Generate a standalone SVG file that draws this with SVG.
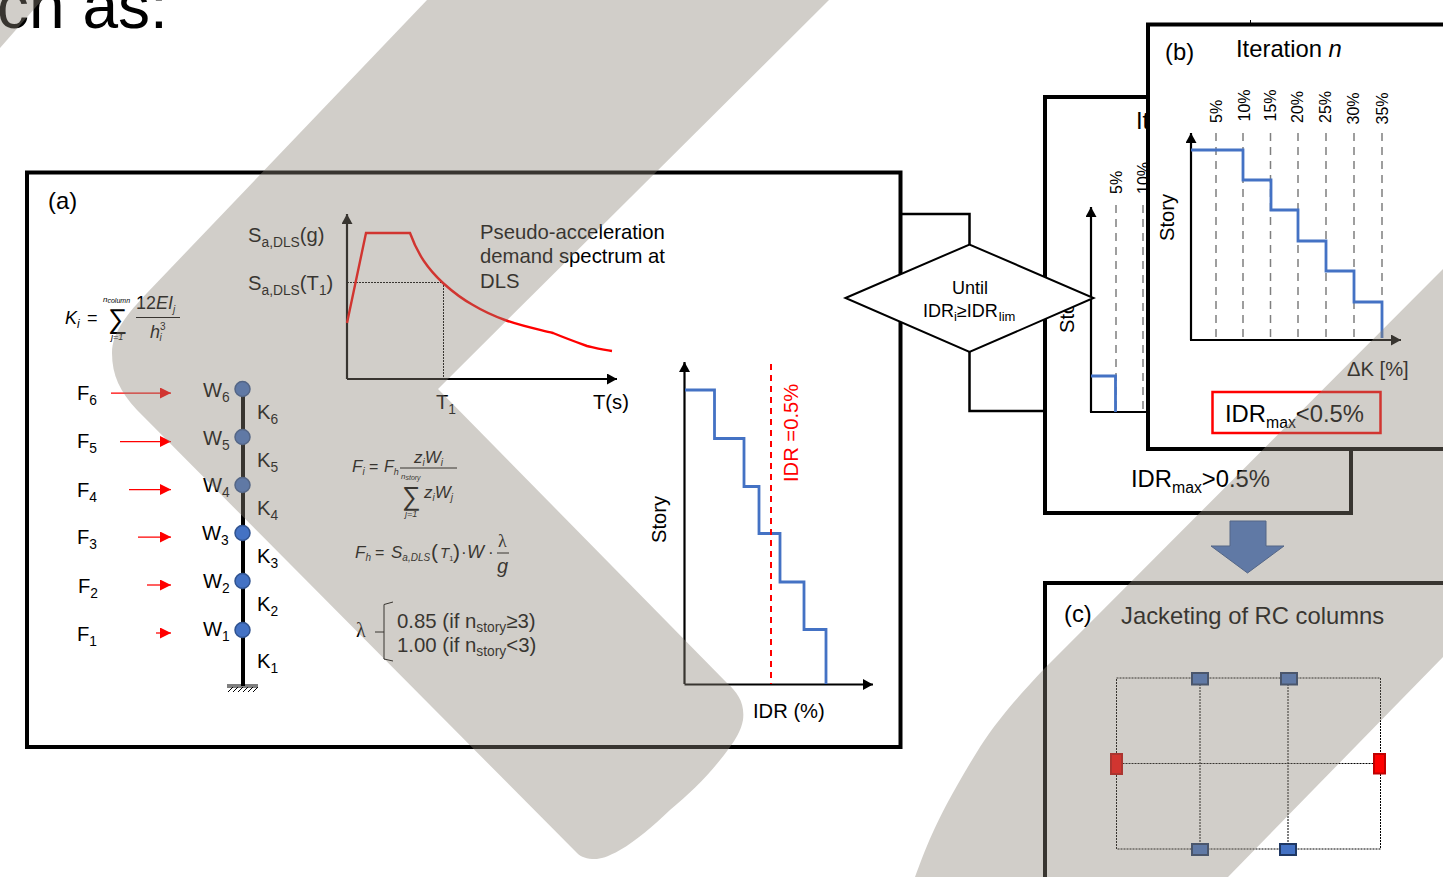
<svg xmlns="http://www.w3.org/2000/svg" width="1443" height="877" viewBox="0 0 1443 877">
<style>
text{font-family:"Liberation Sans",Arial,sans-serif;fill:#000}
.t20{font-size:20.2px}.t18{font-size:18px}.t24{font-size:23.8px}.t16{font-size:16px}
.i{font-style:italic}
.s14{font-size:13.800px}.s16{font-size:15.800px}.s12{font-size:12px}.s10{font-size:10px}
.box{fill:#fff;stroke:#000;stroke-width:4}
.wire{fill:none;stroke:#000;stroke-width:2.5}
.axis{fill:none;stroke:#000;stroke-width:2.2}
.step{fill:none;stroke:#4472c4;stroke-width:2.800}
.dash{stroke:#7f7f7f;stroke-width:1.5;stroke-dasharray:8 6;fill:none}
.dot{stroke:#000;stroke-width:1;stroke-dasharray:2 1;fill:none}
.load{stroke:#f00;stroke-width:1.25;fill:none;marker-end:url(#rh)}
.node{fill:#4472c4;stroke:#2f528f;stroke-width:1.5}
.sq{fill:#4472c4;stroke:#1f3864;stroke-width:2}
.rd{fill:#f00;stroke:#c00000;stroke-width:2}
.band{fill:#8d8479;opacity:.4}
</style>
<defs>
<marker id="ah" markerUnits="userSpaceOnUse" markerWidth="12" markerHeight="12" refX="10" refY="5.5" orient="auto"><path d="M0 0L10 5.5L0 11z" fill="#000"/></marker>
<marker id="rh" markerUnits="userSpaceOnUse" markerWidth="12" markerHeight="12" refX="11" refY="5.5" orient="auto"><path d="M0 0L11 5.5L0 11z" fill="#f00"/></marker>
</defs>
<rect width="1443" height="877" fill="#fff"/>
<text x="-3" y="28" font-size="64">ch as:</text>

<g id="panel-a">
<rect class="box" x="27" y="172.500" width="873.500" height="574.500"/>
<text class="t24" x="48" y="209">(a)</text>
<g id="formula-k">
<text class="t18 i" x="65" y="324">K<tspan class="s12" dy="4">i</tspan></text>
<text class="t18" x="87" y="324">=</text>
<text x="108" y="328" font-size="27">∑</text>
<text class="i" x="103" y="302" font-size="8">n<tspan font-size="7" dy="1">column</tspan></text>
<text class="i" x="111" y="340" font-size="9">j=1</text>
<text class="t18 i" x="136" y="309"><tspan font-style="normal">12</tspan>EI<tspan class="s10" dy="4">j</tspan></text>
<path d="M136 317.500H180" stroke="#000" stroke-width="1"/>
<text class="t18 i" x="150" y="338">h<tspan class="s10" dy="-8" font-style="normal">3</tspan><tspan class="s10" dx="-6" dy="11">i</tspan></text>
</g>
<g id="spectrum">
<path class="axis" marker-end="url(#ah)" d="M347 379V214"/>
<path class="axis" marker-end="url(#ah)" d="M347 379H617"/>
<path class="dot" d="M347 282.500H443.500V379"/>
<path d="M347 323L366 233H410C418 255 428 269 443 283C453 292 462 299 473 305C483 311 494 316 505 320C521 326 537 329 553 333C565 338 576 342 587 346C596 348 604 350 612 351" fill="none" stroke="#f00" stroke-width="2.400"/>
<text class="t20" x="248" y="242">S<tspan class="s14" dy="5">a,DLS</tspan><tspan dy="-5">(g)</tspan></text>
<text class="t20" x="248" y="290">S<tspan class="s14" dy="5">a,DLS</tspan><tspan dy="-5">(T</tspan><tspan class="s14" dy="5">1</tspan><tspan dy="-5">)</tspan></text>
<text class="t20" x="436" y="409">T<tspan class="s14" dy="5">1</tspan></text>
<text class="t20" x="593" y="409">T(s)</text>
<text x="480" y="239" font-size="20.3">Pseudo-acceleration</text>
<text x="480" y="263" font-size="20.3">demand spectrum at</text>
<text x="480" y="288" font-size="20.3">DLS</text>
</g>
<g id="column">
<path d="M243 389V686" stroke="#000" stroke-width="4"/>
<path d="M227 685H258M227 687H258M228 692L233 687M233 692L238 687M238 692L243 687M243 692L248 687M248 692L253 687M253 692L258 687" stroke="#000" stroke-width="1" fill="none"/>
<circle class="node" cx="242.500" cy="389" r="7.500"/>
<circle class="node" cx="242.500" cy="437" r="7.500"/>
<circle class="node" cx="242.500" cy="485" r="7.500"/>
<circle class="node" cx="242.500" cy="533" r="7.500"/>
<circle class="node" cx="242.500" cy="581" r="7.500"/>
<circle class="node" cx="242.500" cy="630" r="7.500"/>
<path class="load" d="M111 393H171"/><path class="load" d="M120 441.500H171"/><path class="load" d="M129 489.500H171"/><path class="load" d="M138 537H171"/><path class="load" d="M147 585H171"/><path class="load" d="M156 633H171"/>
<text class="t20" x="77" y="400">F<tspan class="s14" dy="5">6</tspan></text>
<text class="t20" x="77" y="448">F<tspan class="s14" dy="5">5</tspan></text>
<text class="t20" x="77" y="497">F<tspan class="s14" dy="5">4</tspan></text>
<text class="t20" x="77" y="544">F<tspan class="s14" dy="5">3</tspan></text>
<text class="t20" x="78" y="593">F<tspan class="s14" dy="5">2</tspan></text>
<text class="t20" x="77" y="641">F<tspan class="s14" dy="5">1</tspan></text>
<text class="t20" x="203" y="397">W<tspan class="s14" dy="5">6</tspan></text>
<text class="t20" x="203" y="445">W<tspan class="s14" dy="5">5</tspan></text>
<text class="t20" x="203" y="492">W<tspan class="s14" dy="5">4</tspan></text>
<text class="t20" x="202" y="540">W<tspan class="s14" dy="5">3</tspan></text>
<text class="t20" x="203" y="588">W<tspan class="s14" dy="5">2</tspan></text>
<text class="t20" x="203" y="636">W<tspan class="s14" dy="5">1</tspan></text>
<text class="t20" x="257" y="419">K<tspan class="s14" dy="5">6</tspan></text>
<text class="t20" x="257" y="467">K<tspan class="s14" dy="5">5</tspan></text>
<text class="t20" x="257" y="515">K<tspan class="s14" dy="5">4</tspan></text>
<text class="t20" x="257" y="563">K<tspan class="s14" dy="5">3</tspan></text>
<text class="t20" x="257" y="611">K<tspan class="s14" dy="5">2</tspan></text>
<text class="t20" x="257" y="668">K<tspan class="s14" dy="5">1</tspan></text>
</g>
<g id="formula-f">
<text class="i" x="352" y="472" font-size="17">F<tspan class="s10" dy="3">i</tspan></text>
<text x="369" y="472" font-size="16">=</text>
<text class="i" x="384" y="472" font-size="16">F<tspan font-size="9" dy="3">h</tspan></text>
<text class="i" x="414" y="463" font-size="17">z<tspan class="s10" dy="3">i</tspan><tspan dy="-3">W</tspan><tspan class="s10" dy="3">i</tspan></text>
<path d="M400 468H457" stroke="#000" stroke-width="1"/>
<text class="i" x="401" y="479" font-size="8">n<tspan font-size="7" dy="1">story</tspan></text>
<text x="402" y="505" font-size="26">∑</text>
<text class="i" x="405" y="517" font-size="9">j=1</text>
<text class="i" x="424" y="498" font-size="17">z<tspan class="s10" dy="3">i</tspan><tspan dy="-3">W</tspan><tspan class="s10" dy="3">j</tspan></text>
<text class="i" x="355" y="558" font-size="17">F<tspan class="s10" dy="3">h</tspan></text>
<text x="375" y="558" font-size="16">=</text>
<text class="i" x="391" y="558" font-size="17">S<tspan font-size="10" dy="3">a,DLS</tspan></text>
<text x="431" y="559" font-size="21">(</text>
<text class="i" x="440" y="558" font-size="15">T<tspan font-size="7.500" dy="3" font-style="normal">1</tspan></text>
<text x="453" y="559" font-size="21">)</text>
<text x="461" y="558" font-size="17">·</text>
<text class="i" x="467" y="558" font-size="18">W</text>
<text x="488" y="558" font-size="17">·</text>
<text x="498" y="547" font-size="18" style="font-family:'Liberation Serif',serif">λ</text>
<path d="M497 553H509" stroke="#000" stroke-width="1"/>
<text class="i" x="497" y="573" font-size="20">g</text>
</g>
<g id="formula-lambda">
<text x="356" y="637" font-size="20" style="font-family:'Liberation Serif',serif">λ</text>
<path d="M393 602L384 604.500V659L393 661M375 632H384" fill="none" stroke="#000" stroke-width="1"/>
<text x="397" y="628" font-size="20.4">0.85 (if n<tspan class="s14" dy="4">story</tspan><tspan dy="-4">≥3)</tspan></text>
<text x="397" y="652" font-size="20.4">1.00 (if n<tspan class="s14" dy="4">story</tspan><tspan dy="-4">&lt;3)</tspan></text>
</g>
<g id="idr-chart">
<path class="axis" marker-end="url(#ah)" d="M684.500 684V362"/>
<path class="axis" marker-end="url(#ah)" d="M684.500 684.500H873"/>
<path class="step" d="M685 390H714.500V438.500H744V486.500H759V533.500H780V582H804V629.500H826V684"/>
<path d="M771 364V684" stroke="#f00" stroke-width="2" stroke-dasharray="6 5" fill="none"/>
<text class="t20" transform="translate(798 482) rotate(-90)" style="fill:#f00">IDR =0.5%</text>
<text class="t20" transform="translate(666 543) rotate(-90)">Story</text>
<text class="t20" x="753" y="718">IDR (%)</text>
</g>
</g>

<g id="panel-iteration-back">
<rect class="box" x="1045" y="97" width="306" height="416" stroke-width="3.500"/>
<text class="t24" x="1136" y="129">Iteration</text>
<path class="dash" d="M1116 205V412"/><path class="dash" d="M1143 205V412"/>
<path class="axis" marker-end="url(#ah)" d="M1091 412V207"/>
<path class="axis" d="M1090 412H1150"/>
<path class="step" d="M1091 376H1115.500V412"/>
<text class="t16" transform="translate(1122 194) rotate(-90)">5%</text>
<text class="t16" transform="translate(1149 194) rotate(-90)">10%</text>
<text class="t20" transform="translate(1074 333) rotate(-90)">Story</text>
<text class="t24" x="1131" y="487">IDR<tspan class="s16" dy="6">max</tspan><tspan dy="-6">&gt;0.5%</tspan></text>
</g>

<g id="connectors">
<path class="wire" d="M901 214H969.500V245"/>
<path class="wire" d="M969.500 352V411H1045"/>
</g>

<g id="decision">
<path d="M845.500 298L969.500 244.500L1093.500 298L969.500 352z" fill="#fff" stroke="#000" stroke-width="2"/>
<text class="t18" x="970" y="294" text-anchor="middle">Until</text>
<text class="t18" x="923" y="317">IDR<tspan font-size="13" dy="4">i</tspan><tspan dy="-4">≥IDR</tspan><tspan font-size="13" dy="4" dx="1">lim</tspan></text>
</g>

<g id="panel-b">
<path d="M1250.500 20V24" stroke="#000" stroke-width="1"/>
<rect class="box" x="1148" y="24.500" width="310" height="424.500"/>
<text class="t24" x="1165" y="60">(b)</text>
<text class="t24" x="1236" y="57">Iteration <tspan class="i">n</tspan></text>
<path class="dash" d="M1216 133V340"/><path class="dash" d="M1243 133V340"/><path class="dash" d="M1270.500 133V340"/><path class="dash" d="M1298 133V340"/><path class="dash" d="M1326 133V340"/><path class="dash" d="M1354 133V340"/><path class="dash" d="M1382 133V340"/>
<text class="t16" transform="translate(1222 123) rotate(-90)">5%</text>
<text class="t16" transform="translate(1250 121.500) rotate(-90)">10%</text>
<text class="t16" transform="translate(1276 121.500) rotate(-90)">15%</text>
<text class="t16" transform="translate(1303 123) rotate(-90)">20%</text>
<text class="t16" transform="translate(1331 123) rotate(-90)">25%</text>
<text class="t16" transform="translate(1359 124.500) rotate(-90)">30%</text>
<text class="t16" transform="translate(1388 124.500) rotate(-90)">35%</text>
<path class="axis" marker-end="url(#ah)" d="M1191 340V133"/>
<path class="axis" marker-end="url(#ah)" d="M1190 340H1401"/>
<path class="step" d="M1191 150H1243V180H1271V210H1298V241H1326V271H1354V302H1382V338"/>
<text class="t20" transform="translate(1174 241) rotate(-90)">Story</text>
<text class="t20" x="1347" y="376">ΔK [%]</text>
<rect x="1212.500" y="392" width="168" height="41" fill="none" stroke="#f00" stroke-width="2.500"/>
<text class="t24" x="1225" y="422">IDR<tspan class="s16" dy="6">max</tspan><tspan dy="-6">&lt;0.5%</tspan></text>
</g>

<g id="down-arrow">
<path d="M1230 521H1266V546H1284L1247.500 573L1211 546H1230z" fill="#4472c4" stroke="#2f528f" stroke-width="1"/>
</g>

<g id="panel-c">
<rect class="box" x="1045" y="583" width="420" height="320"/>
<text class="t24" x="1064" y="622">(c)</text>
<text class="t24" x="1121" y="624">Jacketing of RC columns</text>
<path class="dot" d="M1116.500 678H1380.500V849H1116.500zM1200 678V849M1288 678V849M1116.500 763.500H1380.500"/>
<rect class="sq" x="1192" y="673" width="16" height="11.500"/>
<rect class="sq" x="1281" y="673" width="16" height="11.500"/>
<rect class="sq" x="1192" y="844" width="16" height="11"/>
<rect class="sq" x="1280" y="844" width="16" height="11"/>
<rect class="rd" x="1111" y="754" width="11" height="20"/>
<rect class="rd" x="1374" y="754" width="11" height="19.500"/>
</g>

<g id="background-bands">
<path class="band" d="M829 0L438 389L727 683C738 693 745 703 743 720C741 731 735 740 730 747C712 772 692 792 670 810C652 827 636 841 620 850C608 857 600 859 595 859C587 859 581 857 577 853L137 410C120 392 112 375 112 353C112 332 128 313 147 293L427 0z"/>
<path class="band" d="M1443 269V657L1228 877H915C925 851 935 819 980 747C1000 716 1020 695 1043 670L1443 269z"/>
<path class="band" d="M0 48L35 8L42 0H0z"/>
</g>
</svg>
